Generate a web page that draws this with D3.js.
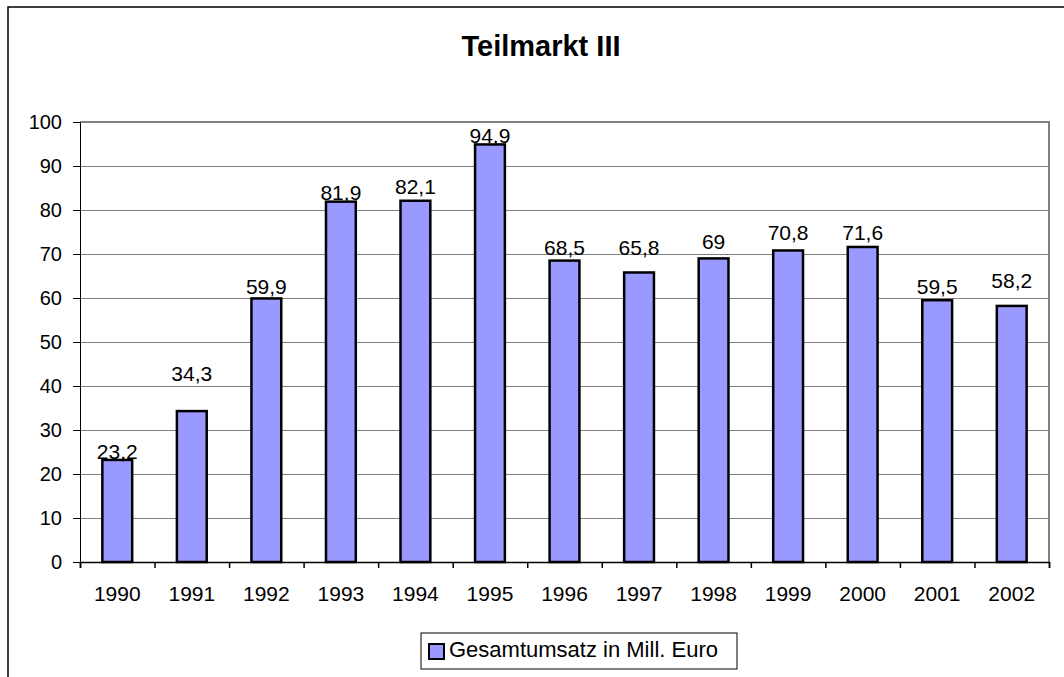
<!DOCTYPE html>
<html>
<head>
<meta charset="utf-8">
<script src="https://cdn.jsdelivr.net/npm/d3@7"></script>
<style>
  body { margin: 0; background: #fff; }
  svg text { font-family: Arial, "Liberation Sans", sans-serif; fill: #000; }
</style>
</head>
<body>
<div id="chart-container"></div>
<script>
// chart data
const years = ["1990", "1991", "1992", "1993", "1994", "1995", "1996", "1997", "1998", "1999", "2000", "2001", "2002"];
const umsatz = [23.2, 34.3, 59.9, 81.9, 82.1, 94.9, 68.5, 65.8, 69, 70.8, 71.6, 59.5, 58.2];
const yTicks = [0, 10, 20, 30, 40, 50, 60, 70, 80, 90, 100];
const seriesName = "Gesamtumsatz in Mill. Euro";

// the value labels in the original sit at slightly uneven heights above the bars
const labelLift = [1, 30, 4, 2, 7, 1, 6, 17, 9, 10, 7, 6, 18];

function renderChart() {
    d3.select("#chart-container svg").remove();

    const W = 1064, H = 677;
    const margin = { top: 122, right: 15, bottom: 115, left: 80 };
    const width = 1049 - margin.left;
    const height = 562 - margin.top;

    const root = d3.select("#chart-container")
        .append("svg")
        .attr("width", W)
        .attr("height", H);

    // outer chart frame (runs off the right and bottom edge)
    root.append("rect")
        .attr("x", 8).attr("y", 7)
        .attr("width", 1200).attr("height", 800)
        .attr("fill", "none")
        .attr("stroke", "#000")
        .attr("stroke-width", 1.5);

    root.append("text")
        .attr("x", 541)
        .attr("y", 56)
        .attr("text-anchor", "middle")
        .style("font-size", "29px")
        .style("font-weight", "bold")
        .text("Teilmarkt III");

    const svg = root.append("g")
        .attr("transform", `translate(${margin.left},${margin.top})`);

    const x = d3.scaleBand()
        .domain(years)
        .range([0, width])
        .paddingInner(0.6)
        .paddingOuter(0.3);

    // boundaries between categories, for the tick marks
    const xEdge = d3.scaleLinear()
        .domain([0, years.length])
        .range([0, width]);

    const y = d3.scaleLinear()
        .domain([0, 100])
        .range([height, 0]);

    // gridlines
    svg.append("g")
        .attr("class", "grid")
        .call(d3.axisLeft(y).tickValues(yTicks).tickSize(-width).tickFormat(""))
        .call(g => g.select(".domain").remove())
        .call(g => g.selectAll("line").attr("stroke", "#808080").attr("stroke-width", 1));

    // plot border on top and right (grey)
    svg.append("path")
        .attr("d", `M0,0H${width}V${height}`)
        .attr("fill", "none")
        .attr("stroke", "#808080")
        .attr("stroke-width", 2);

    // bars
    svg.selectAll(".bar")
        .data(umsatz)
        .join("rect")
        .attr("class", "bar")
        .attr("x", (d, i) => x(years[i]))
        .attr("y", d => y(d))
        .attr("width", x.bandwidth())
        .attr("height", d => height - y(d))
        .attr("fill", "#9999FF")
        .attr("stroke", "#000")
        .attr("stroke-width", 2.5);

    // value labels (German decimal comma)
    svg.selectAll(".val")
        .data(umsatz)
        .join("text")
        .attr("class", "val")
        .attr("x", (d, i) => x(years[i]) + x.bandwidth() / 2)
        .attr("y", (d, i) => y(d) - labelLift[i])
        .attr("text-anchor", "middle")
        .style("font-size", "21px")
        .text(d => String(d).replace(".", ","));

    // y axis
    svg.append("g")
        .call(d3.axisLeft(y).tickValues(yTicks).tickSize(7).tickSizeOuter(0).tickPadding(11))
        .call(g => g.selectAll("text").style("font-size", "20px").attr("fill", "#000"))
        .call(g => g.selectAll("line, .domain").attr("stroke", "#000"));

    // x axis: tick marks at category edges
    svg.append("g")
        .attr("transform", `translate(0,${height})`)
        .call(d3.axisBottom(xEdge).tickValues(d3.range(years.length + 1)).tickSize(6).tickFormat(""))
        .call(g => g.selectAll("line, .domain").attr("stroke", "#000").attr("stroke-width", 1.5));

    // x axis labels
    svg.append("g")
        .attr("transform", `translate(0,${height})`)
        .call(d3.axisBottom(x).tickSize(0).tickPadding(24))
        .call(g => g.select(".domain").remove())
        .call(g => g.selectAll("text").style("font-size", "21px").attr("fill", "#000"));

    // legend
    const legend = root.append("g")
        .attr("transform", "translate(421,633)");

    legend.append("rect")
        .attr("width", 316)
        .attr("height", 36)
        .attr("fill", "#fff")
        .attr("stroke", "#000")
        .attr("stroke-width", 1);

    legend.append("rect")
        .attr("x", 8).attr("y", 11)
        .attr("width", 15).attr("height", 15)
        .attr("fill", "#9999FF")
        .attr("stroke", "#000")
        .attr("stroke-width", 2);

    legend.append("text")
        .attr("x", 28)
        .attr("y", 24)
        .style("font-size", "22px")
        .text(seriesName);
}

renderChart();
</script>
</body>
</html>
